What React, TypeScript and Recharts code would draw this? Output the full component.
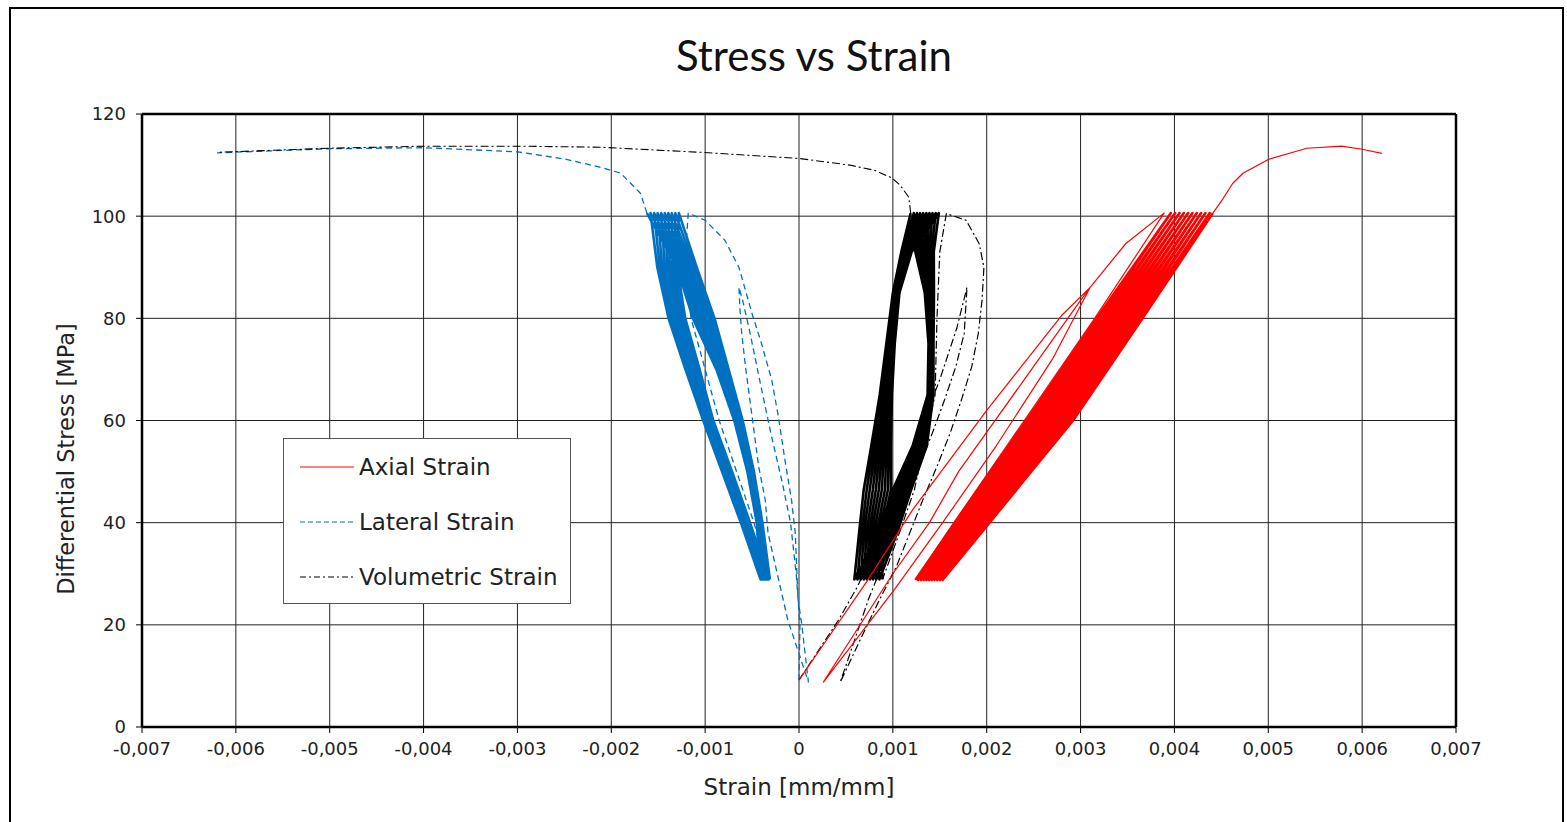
import React from 'react';
import { LineChart, Line, XAxis, YAxis, CartesianGrid, ReferenceLine, Label } from 'recharts';

const FONT = '"DejaVu Sans", sans-serif';
const TITLE_FONT = 'Lato, "DejaVu Sans", sans-serif';

const xTicks = [-0.007, -0.006, -0.005, -0.004, -0.003, -0.002, -0.001, 0, 0.001, 0.002, 0.003, 0.004, 0.005, 0.006, 0.007];
const yTicks = [0, 20, 40, 60, 80, 100, 120];

// [strain, stress] pairs
const axialPre = [
  [0, 9.2], [0.00072, 28.4], [0.00121, 42.5], [0.002, 62], [0.0028, 80.6], [0.0031, 86],
  [0.003, 83.5], [0.0024, 68], [0.0017, 50], [0.00139, 40], [0.001, 30], [0.00026, 8.8],
  [0.00102, 27], [0.00153, 40], [0.0021, 55], [0.0027, 72], [0.0031, 86], [0.00348, 94.6], [0.00389, 100.6],
  [0.00315, 80], [0.0024, 60], [0.00165, 40], [0.00124, 28.8],
];
const axialPost = [
  [0.00441, 100.6], [0.00452, 103.5], [0.00462, 106.4], [0.00473, 108.4], [0.005, 111.1],
  [0.00541, 113.3], [0.00578, 113.7], [0.006, 113.1], [0.00621, 112.3],
];
// cycle rows: strain at each stress level of one loop (loading, then unloading)
const axialCycleStress = [28.8, 40, 60, 80, 100.6, 80, 60, 40];
const axialCycles = [
  [0.00124, 0.00166, 0.00242, 0.00317, 0.003962, 0.003195, 0.002445, 0.001679],
  [0.001269, 0.001697, 0.00247, 0.003219, 0.004008, 0.003244, 0.002495, 0.001716],
  [0.001298, 0.001734, 0.00252, 0.003268, 0.004054, 0.003293, 0.002545, 0.001753],
  [0.001327, 0.001771, 0.00257, 0.003317, 0.0041, 0.003342, 0.002595, 0.00179],
  [0.001356, 0.001808, 0.00262, 0.003366, 0.004146, 0.003391, 0.002645, 0.001827],
  [0.001385, 0.001845, 0.00267, 0.003415, 0.004192, 0.00344, 0.002695, 0.001864],
  [0.001414, 0.001882, 0.00272, 0.003464, 0.004238, 0.003489, 0.002745, 0.001901],
  [0.001443, 0.001919, 0.00277, 0.003513, 0.004284, 0.003538, 0.002795, 0.001938],
  [0.001472, 0.001956, 0.00282, 0.003562, 0.00433, 0.003587, 0.002845, 0.001975],
  [0.001501, 0.001993, 0.00287, 0.003611, 0.004376, 0.003636, 0.002895, 0.002012],
  [0.00153, 0.00203, 0.00292, 0.00366, 0.00441],
];

const lateralPre = [
  [0, 9.2], [0.00001, 20], [-0.00003, 30], [-0.00009, 40], [-0.00018, 48], [-0.0003, 57.5], [-0.00042, 68], [-0.00052, 77], [-0.0006, 83.5], [-0.00064, 86.1],
  [-0.00063, 82], [-0.00061, 77], [-0.00057, 70.5], [-0.0005, 60.8], [-0.00043, 51], [-0.00036, 44.5], [-0.00033, 38], [-0.00025, 31.5], [-0.00012, 21], [0.0001, 8.8],
  [0.00003, 20], [-0.00001, 25], [-0.00004, 38], [-0.00008, 44.5], [-0.00015, 52.3], [-0.00022, 60.8], [-0.00029, 67.9], [-0.0004, 75.1], [-0.0005, 80.9],
  [-0.00064, 90], [-0.00079, 95.3], [-0.001, 99.2], [-0.00118, 100.6],
  [-0.00122, 90], [-0.00115, 80], [-0.00085, 60], [-0.00048, 40], [-0.00031, 28.9],
];
const lateralPost = [
  [-0.00162, 100.6], [-0.00169, 104.5], [-0.0019, 108.4], [-0.0021, 109.5], [-0.0025, 111.2],
  [-0.003, 112.6], [-0.004, 113.4], [-0.005, 113.2], [-0.0062, 112.4],
];
const lateralCycleStress = [28.9, 40, 50, 60, 70, 80, 90, 100.6, 90, 80, 70, 60, 50, 40];
const lateralCycles = [
  [-0.00031, -0.00039, -0.00048, -0.0006, -0.00075, -0.0009, -0.00109, -0.00128, -0.001297, -0.001212, -0.001059, -0.000913, -0.000713, -0.000522],
  [-0.000321, -0.000397, -0.000488, -0.00061, -0.000764, -0.000926, -0.001113, -0.001318, -0.001323, -0.001234, -0.001078, -0.000927, -0.000727, -0.000534],
  [-0.000332, -0.000403, -0.000496, -0.00062, -0.000779, -0.000951, -0.001137, -0.001356, -0.00135, -0.001257, -0.001097, -0.00094, -0.00074, -0.000547],
  [-0.000343, -0.00041, -0.000503, -0.00063, -0.000793, -0.000977, -0.00116, -0.001393, -0.001377, -0.001279, -0.001116, -0.000953, -0.000753, -0.000559],
  [-0.000354, -0.000417, -0.000511, -0.00064, -0.000808, -0.001002, -0.001183, -0.001431, -0.001403, -0.001301, -0.001134, -0.000967, -0.000767, -0.000571],
  [-0.000366, -0.000423, -0.000519, -0.00065, -0.000822, -0.001028, -0.001207, -0.001469, -0.00143, -0.001323, -0.001153, -0.00098, -0.00078, -0.000583],
  [-0.000377, -0.00043, -0.000527, -0.00066, -0.000837, -0.001053, -0.00123, -0.001507, -0.001457, -0.001346, -0.001172, -0.000993, -0.000793, -0.000596],
  [-0.000388, -0.000437, -0.000534, -0.00067, -0.000851, -0.001079, -0.001253, -0.001544, -0.001483, -0.001368, -0.001191, -0.001007, -0.000807, -0.000608],
  [-0.000399, -0.000443, -0.000542, -0.00068, -0.000866, -0.001104, -0.001277, -0.001582, -0.00151, -0.00139, -0.00121, -0.00102, -0.00082, -0.00062],
  [-0.00041, -0.00045, -0.00055, -0.00069, -0.00088, -0.00113, -0.0013, -0.00162],
];

const volPre = [
  [0, 9.2], [0.00042, 20.9], [0.00062, 27.4], [0.00082, 35], [0.00103, 45], [0.00128, 57.5], [0.0015, 68], [0.00168, 78], [0.00179, 86.1],
  [0.00176, 77], [0.00167, 70.5], [0.00155, 64], [0.00142, 57.5], [0.00128, 51], [0.00114, 44.5], [0.00098, 36], [0.00074, 25], [0.00044, 8.8],
  [0.00065, 17], [0.00086, 25], [0.00104, 31.5], [0.00118, 38], [0.00132, 44.5], [0.00147, 51], [0.00161, 57.5], [0.00173, 64],
  [0.00184, 70.5], [0.00191, 77], [0.00195, 83.5], [0.00197, 90], [0.00192, 94.6], [0.00178, 99.2], [0.00157, 100.5],
  [0.0015, 93], [0.00147, 80], [0.00145, 65], [0.00123, 46.5], [0.00107, 38], [0.00089, 28.9],
];
const volPost = [
  [0.00119, 100.6], [0.00117, 103.7], [0.00108, 106], [0.00099, 107.5], [0.0008, 109], [0.00054, 110],
  [0, 111.3], [-0.00105, 112.5], [-0.00212, 113.5], [-0.003, 113.7], [-0.004, 113.7], [-0.005, 113.3], [-0.0062, 112.5],
];
const volCycleStress = [28.9, 38, 46.5, 55, 65, 75, 85, 93, 100.6, 93, 85, 75, 65, 55, 46.5, 38];
const volCycles = [
  [0.00089, 0.00088, 0.00098, 0.00098, 0.00099, 0.00102, 0.00107, 0.0012, 0.00149, 0.001436, 0.001438, 0.001433, 0.001432, 0.001361, 0.001196, 0.001046],
  [0.000857, 0.000853, 0.000948, 0.000957, 0.000976, 0.00101, 0.001062, 0.001188, 0.001457, 0.001411, 0.001426, 0.001427, 0.001424, 0.001342, 0.001171, 0.001021],
  [0.000823, 0.000827, 0.000916, 0.000933, 0.000961, 0.001, 0.001054, 0.001176, 0.001423, 0.001387, 0.001413, 0.00142, 0.001417, 0.001323, 0.001147, 0.000997],
  [0.00079, 0.0008, 0.000883, 0.00091, 0.000947, 0.00099, 0.001047, 0.001163, 0.00139, 0.001362, 0.001401, 0.001413, 0.001409, 0.001304, 0.001122, 0.000972],
  [0.000757, 0.000773, 0.000851, 0.000887, 0.000932, 0.00098, 0.001039, 0.001151, 0.001357, 0.001338, 0.001389, 0.001407, 0.001401, 0.001286, 0.001098, 0.000948],
  [0.000723, 0.000747, 0.000819, 0.000863, 0.000918, 0.00097, 0.001031, 0.001139, 0.001323, 0.001313, 0.001377, 0.0014, 0.001393, 0.001267, 0.001073, 0.000923],
  [0.00069, 0.00072, 0.000787, 0.00084, 0.000903, 0.00096, 0.001023, 0.001127, 0.00129, 0.001289, 0.001364, 0.001393, 0.001386, 0.001248, 0.001049, 0.000899],
  [0.000657, 0.000693, 0.000754, 0.000817, 0.000889, 0.00095, 0.001016, 0.001114, 0.001257, 0.001264, 0.001352, 0.001387, 0.001378, 0.001229, 0.001024, 0.000874],
  [0.000623, 0.000667, 0.000722, 0.000793, 0.000874, 0.00094, 0.001008, 0.001102, 0.001223, 0.00124, 0.00134, 0.00138, 0.00137, 0.00121, 0.001, 0.00085],
  [0.00059, 0.00064, 0.00069, 0.00077, 0.00086, 0.00093, 0.001, 0.00109, 0.00119],
];

const toPts = (pairs: number[][]) => pairs.map(([x, y]) => ({ x, y }));
const cyclePts = (levels: number[], rows: number[][]) =>
  rows.flatMap((row) => row.map((x, i) => ({ x, y: levels[i] })));

const RED = '#ff0000';
const BLUE = '#0070c0';
const BLACK = '#000000';
const DASH = '6 4';
const DASH_DOT = '8 3 2 3';
const BAND_W = 2.6;

const fmtX = (v: number) => (v === 0 ? '0' : v.toFixed(3).replace('.', ','));

const series = [
  { key: 'latPre', data: toPts(lateralPre), stroke: BLUE, w: 1.3, dash: DASH },
  { key: 'latBand', data: cyclePts(lateralCycleStress, lateralCycles), stroke: BLUE, w: BAND_W, dash: undefined },
  { key: 'latPost', data: toPts(lateralPost), stroke: BLUE, w: 1.3, dash: DASH },
  { key: 'volPre', data: toPts(volPre), stroke: BLACK, w: 1.2, dash: DASH_DOT },
  { key: 'volBand', data: cyclePts(volCycleStress, volCycles), stroke: BLACK, w: BAND_W, dash: undefined },
  { key: 'volPost', data: toPts(volPost), stroke: BLACK, w: 1.1, dash: DASH_DOT },
  { key: 'axPre', data: toPts(axialPre), stroke: RED, w: 1.2, dash: undefined },
  { key: 'axBand', data: cyclePts(axialCycleStress, axialCycles), stroke: RED, w: BAND_W, dash: undefined },
  { key: 'axPost', data: toPts(axialPost), stroke: RED, w: 1.2, dash: undefined },
];

const legendItems = [
  { name: 'Axial Strain', stroke: RED, dash: undefined },
  { name: 'Lateral Strain', stroke: BLUE, dash: '5 3' },
  { name: 'Volumetric Strain', stroke: BLACK, dash: '6 3 2 3' },
];

export default function App() {
  const tickStyle = { fill: '#222', fontSize: 18, fontFamily: FONT };
  return (
    <div style={{ position: 'absolute', left: 0, top: 0, width: 1567, height: 822, overflow: 'hidden', background: '#fff' }}>
      <div style={{ position: 'absolute', left: 9, top: 7, width: 1551, height: 900, border: '2px solid #000' }} />
      <div style={{ position: 'absolute', left: 0, width: 1628, top: 30, textAlign: 'center', fontFamily: TITLE_FONT, fontSize: 42, color: '#111' }}>
        Stress vs Strain
      </div>
      <div style={{ position: 'absolute', left: 0, top: 0 }}>
        <LineChart width={1567} height={822} margin={{ top: 114, right: 111, bottom: 0, left: 42 }}>
          <CartesianGrid stroke="#222" strokeWidth={1} />
          <XAxis
            type="number"
            dataKey="x"
            domain={[-0.007, 0.007]}
            ticks={xTicks}
            interval={0}
            tickFormatter={fmtX}
            height={95}
            tick={tickStyle}
            tickSize={6}
            tickMargin={9}
            axisLine={{ stroke: '#000', strokeWidth: 2.5 }}
            tickLine={{ stroke: '#000' }}
          >
            <Label value="Strain [mm/mm]" position="insideBottom" offset={27} style={{ fill: '#222', fontSize: 23, fontFamily: FONT }} />
          </XAxis>
          <YAxis
            type="number"
            domain={[0, 120]}
            ticks={yTicks}
            interval={0}
            width={100}
            tick={tickStyle}
            tickSize={6}
            tickMargin={10}
            axisLine={{ stroke: '#000', strokeWidth: 2.5 }}
            tickLine={{ stroke: '#000' }}
          >
            <Label
              content={() => (
                <text x={66} y={459} transform="rotate(-90 66 459)" textAnchor="middle" dominantBaseline="central" fill="#222" fontSize={22.5} fontFamily={FONT}>
                  Differential Stress [MPa]
                </text>
              )}
            />
          </YAxis>
          <ReferenceLine y={120} stroke="#000" strokeWidth={2.5} />
          <ReferenceLine x={0.007} stroke="#000" strokeWidth={2.5} />
          {series.map((s) => (
            <Line
              key={s.key}
              data={s.data}
              dataKey="y"
              type="linear"
              stroke={s.stroke}
              strokeWidth={s.w}
              strokeDasharray={s.dash}
              strokeLinejoin="round"
              dot={false}
              activeDot={false}
              isAnimationActive={false}
            />
          ))}
        </LineChart>
      </div>
      <div
        style={{
          position: 'absolute', left: 283, top: 438, width: 286, height: 164, border: '1px solid #555',
          background: '#fff', fontFamily: FONT, fontSize: 23, color: '#222',
        }}
      >
        {legendItems.map((it, i) => (
          <div key={it.name} style={{ position: 'absolute', left: 16, top: 14 + i * 55, height: 28, display: 'flex', alignItems: 'center', whiteSpace: 'nowrap' }}>
            <svg width={54} height={10} style={{ marginRight: 5 }}>
              <line x1={0} y1={5} x2={54} y2={5} stroke={it.stroke} strokeWidth={1.2} strokeDasharray={it.dash} />
            </svg>
            {it.name}
          </div>
        ))}
      </div>
    </div>
  );
}
